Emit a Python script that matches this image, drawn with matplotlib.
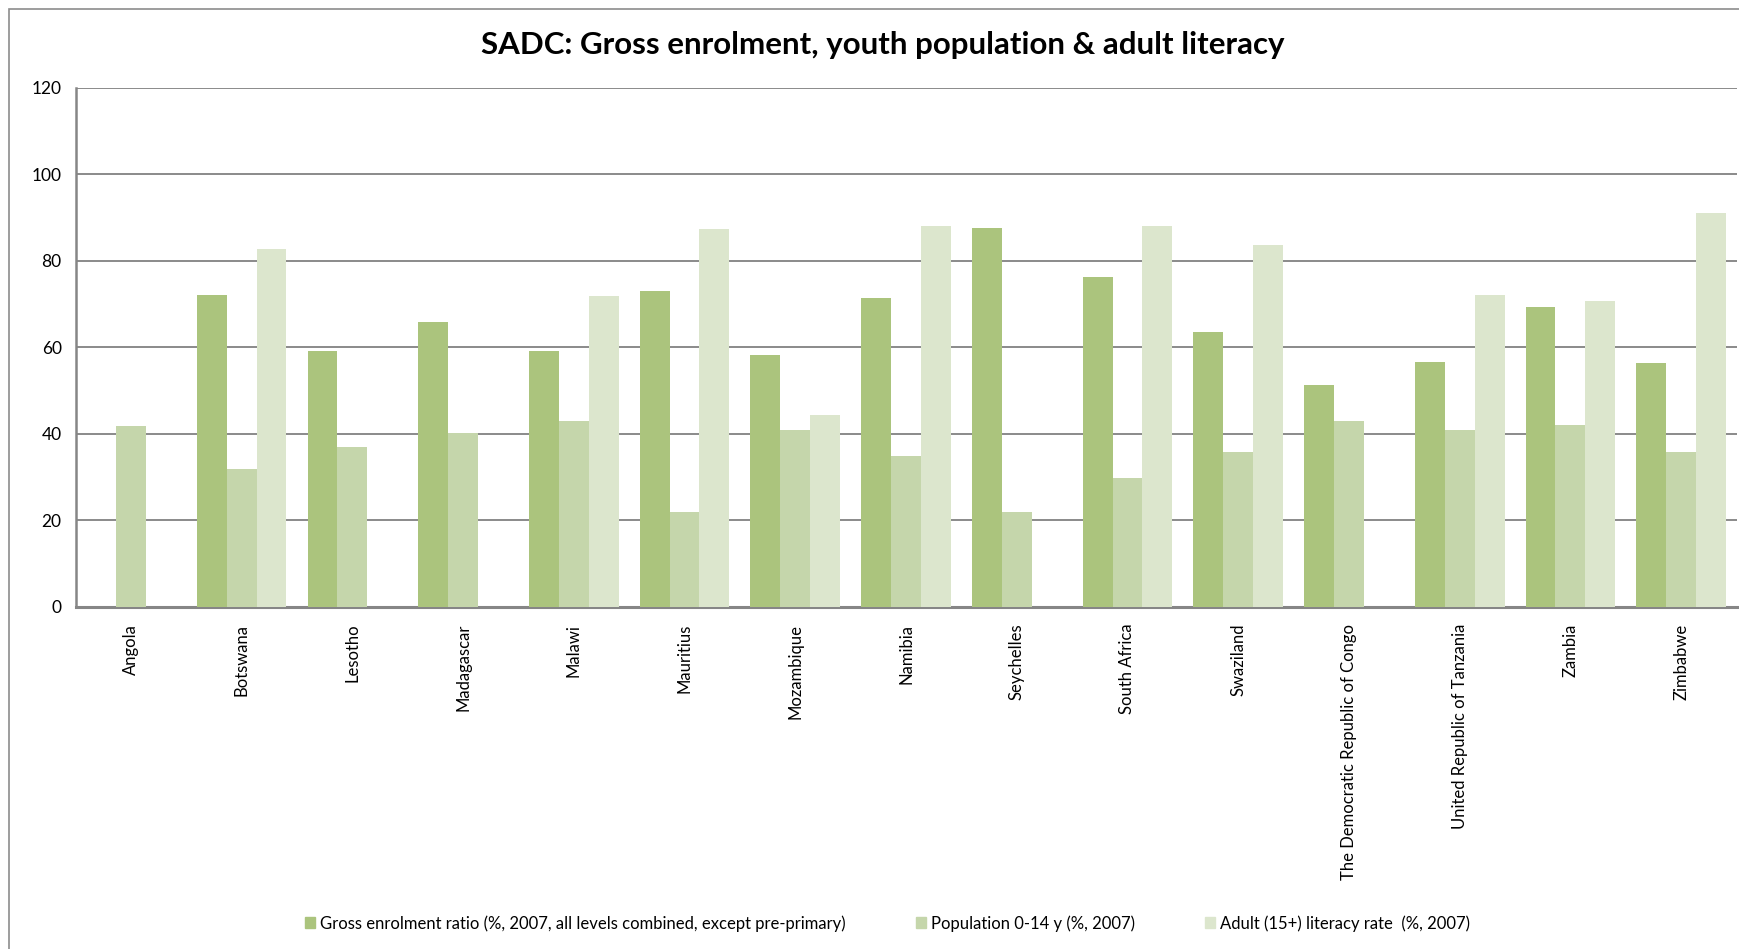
#!/usr/bin/env python3
"""SADC: gross enrolment, youth population & adult literacy - grouped bar chart"""

import numpy as np
import matplotlib
matplotlib.use('Agg')
import matplotlib.pyplot as plt
import matplotlib.patches as mpatches

# Data
countries = ['Angola', 'Botswana', 'Lesotho', 'Madagascar', 'Malawi', 'Mauritius',
             'Mozambique', 'Namibia', 'Seychelles', 'South Africa', 'Swaziland',
             'The Democratic Republic of Congo', 'United Republic of Tanzania',
             'Zambia', 'Zimbabwe']
gross_enrolment = [np.nan, 72.1, 59.2, 65.9, 59.2, 73.0, 58.3, 71.4, 87.6,
                   76.3, 63.6, 51.4, 56.7, 69.4, 56.4]
population_0_14 = [41.9, 31.9, 37.0, 40.2, 43.0, 22.0, 40.9, 34.9, 22.0,
                   29.9, 35.9, 43.0, 40.9, 42.0, 35.9]
adult_literacy = [np.nan, 82.7, np.nan, np.nan, 71.9, 87.4, 44.4, 88.0, np.nan,
                  88.0, 83.6, np.nan, 72.1, 70.6, 91.1]

series_labels = ['Gross enrolment ratio (%, 2007, all levels combined, except pre-primary)',
                 'Population 0-14 y (%, 2007)',
                 'Adult (15+) literacy rate  (%, 2007)']
colors = ['#ABC47D', '#C5D6AB', '#DCE6CD']

plt.rcParams['font.family'] = ['Lato', 'DejaVu Sans']

fig = plt.figure(figsize=(17.4, 9.49), dpi=100)
ax = fig.add_axes([0.0434, 0.3604, 0.9546, 0.5472])

# outer chart border
fig.patches.append(mpatches.Rectangle((9 / 1740, -0.1), 1.2, 1.1 - 9 / 949,
                                      transform=fig.transFigure, fill=False,
                                      edgecolor='#8c8c8c', linewidth=1.2))

x = np.arange(len(countries))
width = 0.27
for i, (vals, col) in enumerate(zip([gross_enrolment, population_0_14, adult_literacy], colors)):
    ax.bar(x + (i - 1) * width, vals, width=width, color=col, label=series_labels[i],
           zorder=3, linewidth=0)

ax.set_xlim(-0.5, len(countries) - 0.5)
ax.set_ylim(0, 120)
ax.set_yticks(range(0, 121, 20))
ax.yaxis.grid(True, color='#8a8a8a', linewidth=1.4, zorder=0)
ax.set_axisbelow(True)

for side in ['top', 'right']:
    ax.spines[side].set_visible(False)
ax.spines['left'].set_color('#868686')
ax.spines['left'].set_linewidth(1.8)
ax.spines['bottom'].set_color('#868686')
ax.spines['bottom'].set_linewidth(2.2)

ax.set_xticks(x)
ax.set_xticklabels(countries, rotation=90, fontsize=12, ha='center', va='top')
ax.tick_params(axis='both', length=0)
ax.tick_params(axis='x', pad=12)
ax.tick_params(axis='y', labelsize=12.5, pad=10)

fig.text(0.5075, 0.953, 'SADC: Gross enrolment, youth population & adult literacy',
         ha='center', va='center', fontsize=22.5, fontweight='bold')

handles = [mpatches.Patch(color=c, label=l) for c, l in zip(colors, series_labels)]
fig.legend(handles=handles, loc='center', bbox_to_anchor=(0.51, 0.027), ncol=3,
           frameon=False, fontsize=12, handlelength=0.6, handleheight=0.6,
           handletextpad=0.3, columnspacing=4.2)

plt.savefig('out.png', dpi=100, facecolor='white')
